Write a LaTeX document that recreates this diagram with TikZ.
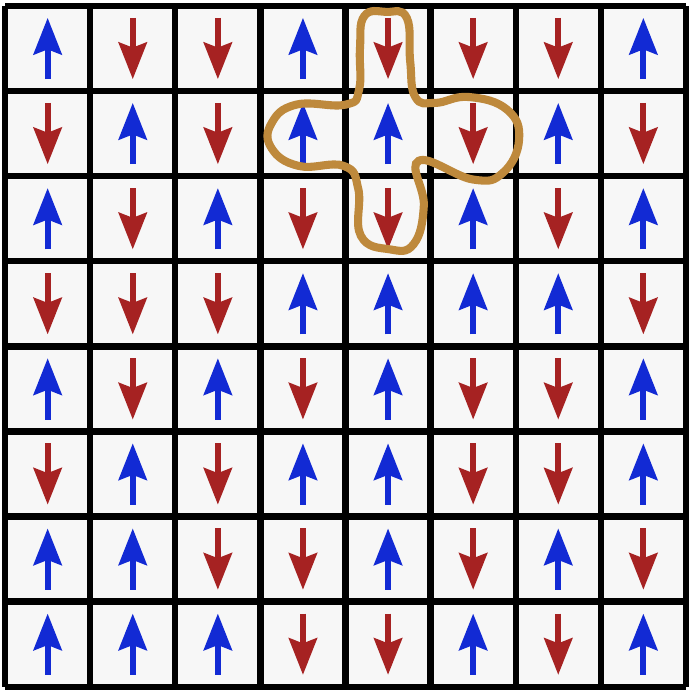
\documentclass[tikz,border=0pt]{standalone}
\usetikzlibrary{arrows.meta}

\definecolor{cellgray}{RGB}{247,247,247}
\definecolor{spinblue}{RGB}{18,42,212}
\definecolor{spinred}{RGB}{166,34,34}
\definecolor{loopgold}{RGB}{190,137,60}

\begin{document}
\begin{tikzpicture}[
  >={Stealth[length=4.3mm,width=3.3mm,inset=0.6mm]},
  spinup/.style={->, spinblue, line width=0.7mm},
  spindown/.style={->, spinred, line width=0.7mm},
]
\useasboundingbox (-0.06,-0.05) rectangle (8.06,8.07);

% Lattice
\fill[cellgray] (0,0) rectangle (8,8);
\draw[line width=0.75mm] (0,0) grid (8,8);

% Spins, row by row from the top (1 = up, 0 = down)
\foreach \row [count=\r] in {
  {1,0,0,1,0,0,0,1},
  {0,1,0,1,1,0,1,0},
  {1,0,1,0,0,1,0,1},
  {0,0,0,1,1,1,1,0},
  {1,0,1,0,1,0,0,1},
  {0,1,0,1,1,0,0,1},
  {1,1,0,0,1,0,1,0},
  {1,1,1,0,0,1,0,1}} {
  \foreach \s [count=\c] in \row {
    \ifnum\s=1
      \draw[spinup] (\c-0.5, 8.14-\r) -- ++(0,0.72);
    \else
      \draw[spindown] (\c-0.5, 8.86-\r) -- ++(0,-0.72);
    \fi
  }
}

% Loop round the flipped cluster
\draw[loopgold, line width=0.95mm] plot[smooth cycle, tension=0.75] coordinates {
  (4.22,7.88) (4.48,7.93) (4.72,7.86) (4.76,7.35) (4.82,6.93)
  (5.05,6.86) (5.45,6.93) (5.90,6.78) (6.04,6.43) (5.85,6.04)
  (5.50,5.96) (4.86,6.18) (4.92,5.65) (4.80,5.20) (4.52,5.14)
  (4.18,5.30) (4.15,5.85) (3.98,6.12) (3.45,6.12) (3.13,6.33)
  (3.13,6.62) (3.42,6.84) (4.00,6.84) (4.16,7.02) (4.17,7.50)};
\end{tikzpicture}
\end{document}
